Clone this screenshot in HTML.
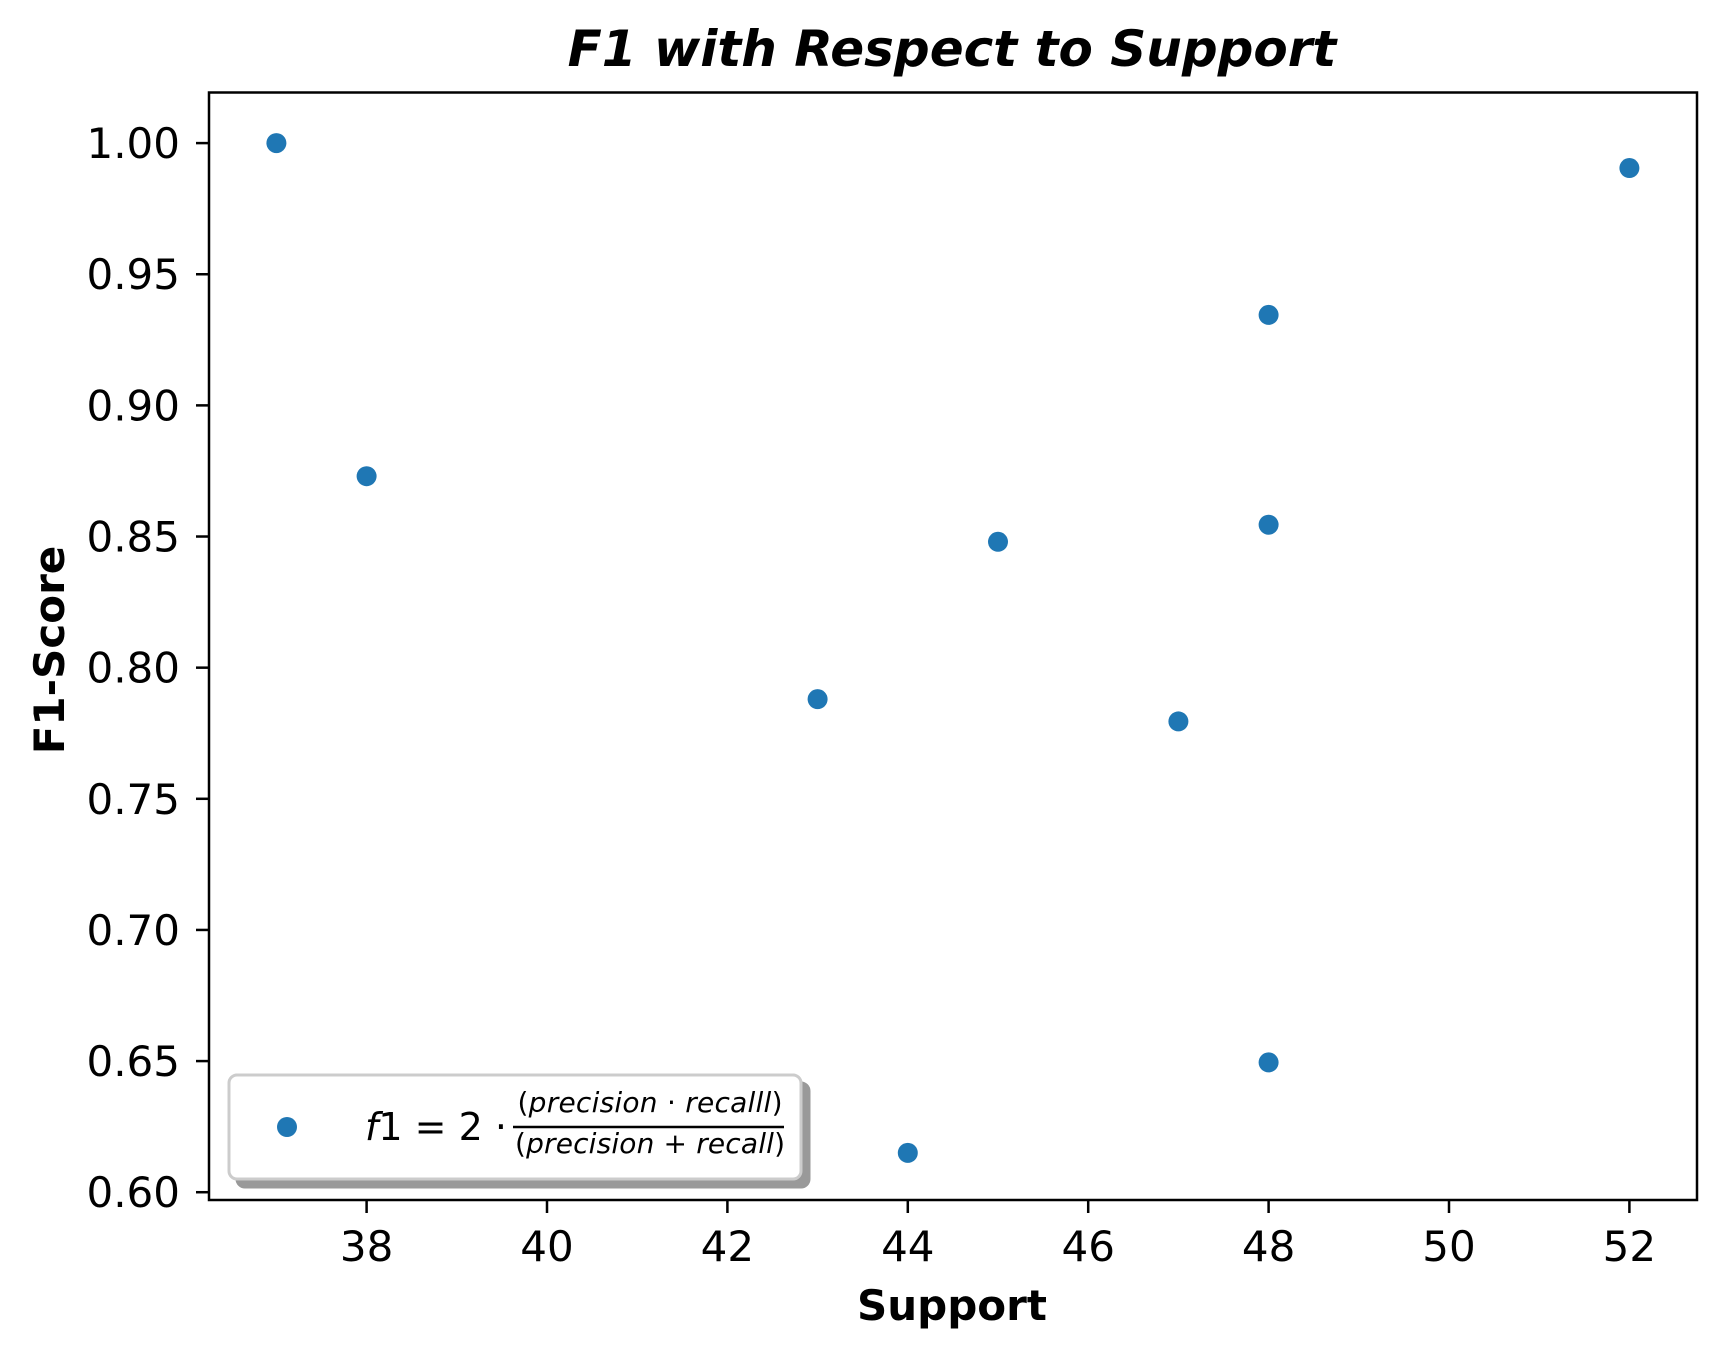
<!DOCTYPE html>
<html><head><meta charset="utf-8"><style>
body{margin:0;background:#fff}
svg{position:absolute;left:0;top:0}
svg text{font-family:"DejaVu Sans","Liberation Sans",sans-serif}
</style></head><body>
<svg id="chart" width="1726" height="1357" xmlns="http://www.w3.org/2000/svg">
<rect width="1726" height="1357" fill="#fff"/>
<g id="plot"></g>
</svg>
<script>
const supportValues=[37,38,43,44,45,47,48,48,48,52];
const f1Values=[1.0,0.873,0.788,0.615,0.848,0.7795,0.9345,0.8545,0.6495,0.9905];
const xTicks=[38,40,42,44,46,48,50,52];
const yTicks=[0.60,0.65,0.70,0.75,0.80,0.85,0.90,0.95,1.00];
const yTickLabels=["0.60","0.65","0.70","0.75","0.80","0.85","0.90","0.95","1.00"];

const L=209,R=1697,T=92.5,B=1200;
const xs=v=>366.6+(v-38)*90.2;
const ys=v=>143.1+(1.0-v)/0.05*131.14;
const NS="http://www.w3.org/2000/svg";
const g=document.getElementById('plot');
function mk(tag,attrs,parent){const e=document.createElementNS(NS,tag);for(const k in attrs)e.setAttribute(k,attrs[k]);(parent||g).appendChild(e);return e;}

supportValues.forEach((s,i)=>{
  const c=mk('circle',{cx:xs(s),cy:ys(f1Values[i]),r:10,fill:'#1f77b4'});
  
  
});
const fr=mk('rect',{x:L,y:T,width:R-L,height:B-T,fill:'none',stroke:'#000','stroke-width':2.5});


xTicks.forEach(t=>{
  const x=xs(t);
  const ln=mk('line',{x1:x,x2:x,y1:B,y2:B+13,stroke:'#000','stroke-width':2.5});
  
  
  const tx=mk('text',{x:x,y:1261,'text-anchor':'middle','font-size':42});
  tx.textContent=String(t);
  
  
});
yTicks.forEach((t,i)=>{
  const y=ys(t);
  const ln=mk('line',{x1:L-13,x2:L,y1:y,y2:y,stroke:'#000','stroke-width':2.5});
  
  
  const tx=mk('text',{x:180,y:y+15,'text-anchor':'end','font-size':42});
  tx.textContent=yTickLabels[i];
  
  
});
</script>
<svg width="1726" height="1357" xmlns="http://www.w3.org/2000/svg">
<text x="952" y="66" text-anchor="middle" font-size="50" font-weight="bold" font-style="italic">F1 with Respect to Support</text>
<text x="952" y="1320" text-anchor="middle" font-size="42" font-weight="bold">Support</text>
<text transform="translate(64,650) rotate(-90)" text-anchor="middle" font-size="42" font-weight="bold">F1-Score</text>
<g>
<rect x="237" y="1083" width="572" height="104" rx="8" fill="#999" stroke="#999" stroke-width="3"/>
<rect x="229" y="1075" width="572" height="104" rx="8" fill="#fff" stroke="#ccc" stroke-width="3"/>
<circle cx="287" cy="1127" r="10" fill="#1f77b4"/>
<text x="365" y="1140" font-size="38"><tspan font-style="italic">f</tspan>1 = 2 ·</text>
<text x="650" y="1112" text-anchor="middle" font-size="28" textLength="265">(<tspan font-style="italic">precision</tspan> · <tspan font-style="italic">recalll</tspan>)</text>
<line x1="513" x2="784" y1="1127" y2="1127" stroke="#000" stroke-width="2.5"/>
<text x="650" y="1153" text-anchor="middle" font-size="28" textLength="270">(<tspan font-style="italic">precision</tspan> + <tspan font-style="italic">recall</tspan>)</text>
</g>
</svg>
</body></html>
